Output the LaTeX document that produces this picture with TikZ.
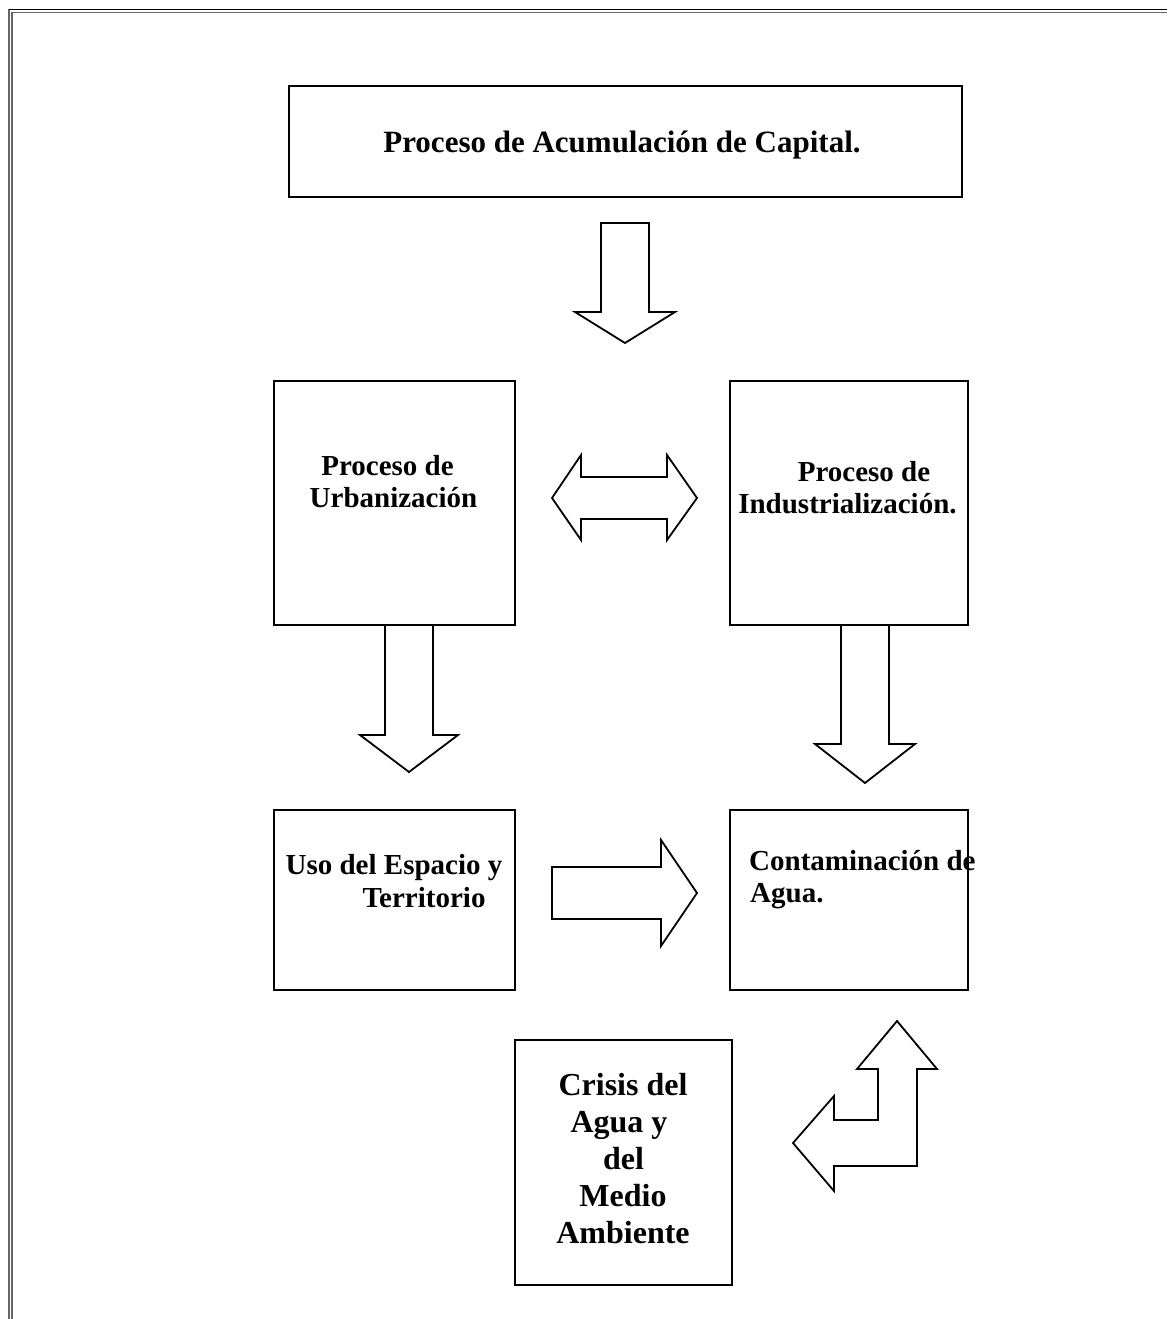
\documentclass[tikz,border=0pt]{standalone}
\usepackage{fontspec}
\setmainfont{Liberation Serif}
\begin{document}
\begin{tikzpicture}[x=1pt,y=-1pt,
  boxst/.style={draw=black,line width=1.9pt,fill=white},
  arrowst/.style={draw=black,line width=1.8pt,fill=white,line join=miter},
  txt/.style={inner sep=0pt,anchor=base,font=\bfseries\fontsize{29}{33}\selectfont},
  txtbig/.style={inner sep=0pt,anchor=base,font=\bfseries\fontsize{32}{37}\selectfont},
  txttop/.style={inner sep=0pt,anchor=base,font=\bfseries\fontsize{31}{35}\selectfont}]
\useasboundingbox (0,0) rectangle (1167,1319);
\fill[white] (0,0) rectangle (1167,1319);
% page border
\draw[line width=1.5pt,black!60] (9,1319) -- (9,9.5);
\draw[line width=1.2pt,black!60] (12,1319) -- (12,12.3);
\draw[line width=1.5pt,black] (9,9.5) -- (1167,9.5);
\draw[line width=1.2pt,black!60] (12,12.3) -- (1167,12.3);
% boxes
\draw[boxst] (289,86) rectangle (962,197);
\node[inner sep=0pt] (topbox) at (625.5,141.5) {};
\draw[boxst] (274,381) rectangle (515,625);
\node[inner sep=0pt] (urbbox) at (394.5,503) {};
\draw[boxst] (730,381) rectangle (968,625);
\node[inner sep=0pt] (indbox) at (849,503) {};
\draw[boxst] (274,810) rectangle (515,990);
\node[inner sep=0pt] (usobox) at (394.5,900) {};
\draw[boxst] (730,810) rectangle (968,990);
\node[inner sep=0pt] (contbox) at (849,900) {};
\draw[boxst] (515,1040) rectangle (732,1285);
\node[inner sep=0pt] (crisbox) at (623.5,1162) {};
% texts
\node[txttop] (t1) at (622,152) {Proceso de Acumulación de Capital.};
\node[txt] (u1) at (387.5,475) {Proceso de};
\node[txt] (u2) at (393.5,507) {Urbanización};
\node[txt] (i1) at (864,481) {Proceso de};
\node[txt] (i2) at (847.5,513) {Industrialización.};
\node[txt] (s1) at (394,874) {Uso del Espacio y};
\node[txt] (s2) at (424,907) {Territorio};
\node[txt,anchor=base west] (c1) at (749,870) {Contaminación de};
\node[txt,anchor=base west] (c2) at (750,902) {Agua.};
\node[txtbig] (k1) at (623,1095) {Crisis del};
\node[txtbig] (k2) at (619,1132) {Agua y};
\node[txtbig] (k3) at (623.5,1169) {del};
\node[txtbig] (k4) at (623,1206) {Medio};
\node[txtbig] (k5) at (623,1243) {Ambiente};
% block arrows
\draw[arrowst] (601,223) -- (649,223) -- (649,312) -- (675,312) -- (625,343) -- (575,312) -- (601,312) -- cycle;
\draw[arrowst] (385,625) -- (433,625) -- (433,735) -- (458,735) -- (409,772) -- (360,735) -- (385,735) -- cycle;
\draw[arrowst] (841,625) -- (889,625) -- (889,744) -- (915,744) -- (865,783) -- (815,744) -- (841,744) -- cycle;
\draw[arrowst] (552,498) -- (581,455) -- (581,477) -- (667,477) -- (667,455) -- (697,498) -- (667,540) -- (667,519) -- (581,519) -- (581,540) -- cycle;
\draw[arrowst] (552,867) -- (661,867) -- (661,840) -- (697,893) -- (661,946) -- (661,919) -- (552,919) -- cycle;
\draw[arrowst] (897,1021) -- (937,1069) -- (917,1069) -- (917,1166) -- (834,1166) -- (834,1191) -- (793,1143) -- (834,1096) -- (834,1120) -- (878,1120) -- (878,1069) -- (857,1069) -- cycle;
\end{tikzpicture}
\end{document}
